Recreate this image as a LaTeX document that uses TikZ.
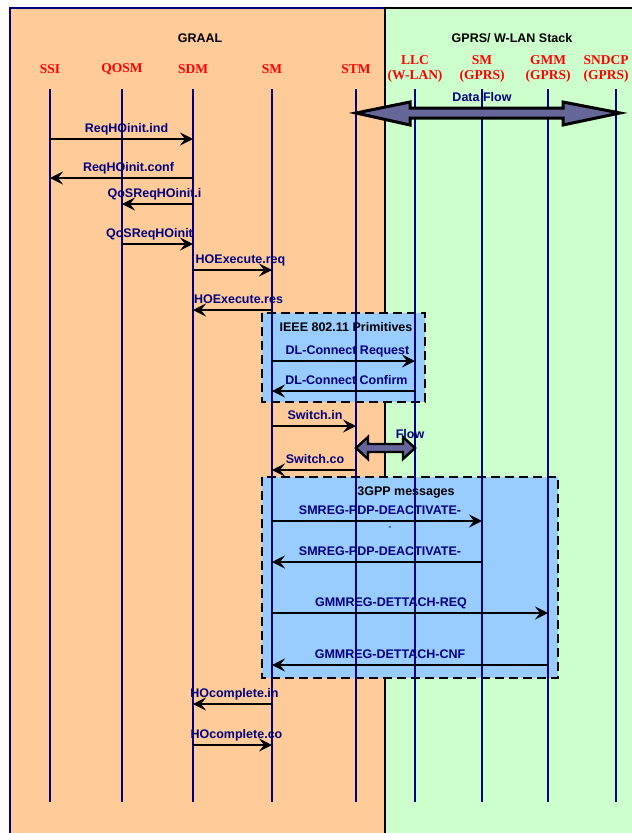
\documentclass[tikz,border=0pt]{standalone}
\usepackage{fontspec}
\setmainfont{Liberation Serif}
\setsansfont{Liberation Sans}
\usetikzlibrary{arrows.meta}
\definecolor{graal}{HTML}{FFCC99}
\definecolor{stack}{HTML}{CCFFCC}
\definecolor{prim}{HTML}{99CCFF}
\definecolor{life}{HTML}{000080}
\definecolor{flowfill}{HTML}{666699}

\begin{document}
\begin{tikzpicture}[x=1pt, y=-1pt,
	lifeline/.style={draw=life, line width=2.8pt},
	msg/.style={black, line width=2.8pt, -{Stealth[length=13pt, width=13pt, inset=5pt]}},
	msglabel/.style={text=life, font=\sffamily\bfseries\fontsize{12.5}{14}\selectfont, inner sep=0pt, text depth=0pt},
	head/.style={text=red, font=\bfseries\fontsize{13.5}{15}\selectfont, align=center},
	title/.style={font=\sffamily\bfseries\fontsize{12.5}{14}\selectfont},
	group/.style={fill=prim, draw=black, line width=2.6pt, dash pattern=on 9pt off 5pt},
	bigflow/.style={fill=flowfill, draw=black, line width=3pt, line join=miter}]

\useasboundingbox (0, 0) rectangle (632, 833);
\fill[graal] (10, 8) rectangle (385, 833);
\fill[stack] (385, 8) rectangle (632, 833);
\draw[life, line width=2pt] (10, 833) -- (10, 8) -- (385, 8);
\draw[line width=2.8pt] (385, 833) -- (385, 8) -- (632, 8);

\node[title] at (200, 38) (graal-t) {GRAAL};
\node[title] at (512, 38) (stack-t) {GPRS/ W-LAN Stack};

% message groups
\filldraw[group] (262, 313) rectangle (425, 402);
\filldraw[group] (262, 477) rectangle (558, 678);
\node[title] at (346, 327) (ieee-t) {IEEE 802.11 Primitives};
\node[title] at (406, 492) (gpp-t) {3GPP messages};

\foreach \n/\x/\hx/\t in {ssi/50/50/SSI, qosm/122/122/QOSM, sdm/193/193/SDM, sm/272/272/SM, stm/356/356/STM,
	llc/415/415/LLC\\(W-LAN), smg/482/482/SM\\(GPRS), gmm/548/548/GMM\\(GPRS), sndcp/616/606/SNDCP\\(GPRS)}{
	\node[head] at (\hx, 69) (\n-h) {\t};
	\coordinate (\n) at (\x, 89);
	\draw[lifeline] (\n) -- ++(0, 713);}

\draw[bigflow] (stm |- 0,113) -- ++(54, -11) -- ++(0, 6) -- ++(153, 0) -- ++(0, -6) -- ++(57, 11)
	-- ++(-57, 12) -- ++(0, -7) -- ++(-153, 0) -- ++(0, 7) -- cycle;
\node[msglabel] at (482, 97) (data-l) {Data Flow};

\draw[bigflow, line width=2.4pt] (stm |- 0,448) -- ++(12, -11) -- ++(0, 7) -- ++(35, 0) -- ++(0, -7)
	-- (llc |- 0,448) -- ++(-12, 11) -- ++(0, -7) -- ++(-35, 0) -- ++(0, 7) -- cycle;
\node[msglabel] at (410, 434) (flow-l) {Flow};

\foreach \a/\b/\y/\dx/\t in {ssi/sdm/139/5/ReqHOinit.ind, sdm/ssi/178/7/ReqHOinit.conf,
	sdm/qosm/204/-3/QoSReqHOinit.i, qosm/sdm/244/-8/QoSReqHOinit,
	sdm/sm/270/8/HOExecute.req, sm/sdm/310/6/HOExecute.res,
	sm/llc/361/4/DL-Connect Request, llc/sm/391/3/DL-Connect Confirm,
	sm/stm/426/1/Switch.in, stm/sm/470/1/Switch.co,
	sm/smg/521/3/SMREG-PDP-DEACTIVATE-, smg/sm/562/3/SMREG-PDP-DEACTIVATE-,
	sm/gmm/613/-19/GMMREG-DETTACH-REQ, gmm/sm/665/-20/GMMREG-DETTACH-CNF,
	sm/sdm/704/2/HOcomplete.in, sdm/sm/745/4/HOcomplete.co}
	\draw[msg] (\a |- 0,\y) -- (\b |- 0,\y) node[midway, above=5pt, xshift=\dx, msglabel] {\t};
\node[msglabel, font=\sffamily\bfseries\fontsize{8}{8}\selectfont] at (390, 528) (dash-l) {-};

\end{tikzpicture}
\end{document}
